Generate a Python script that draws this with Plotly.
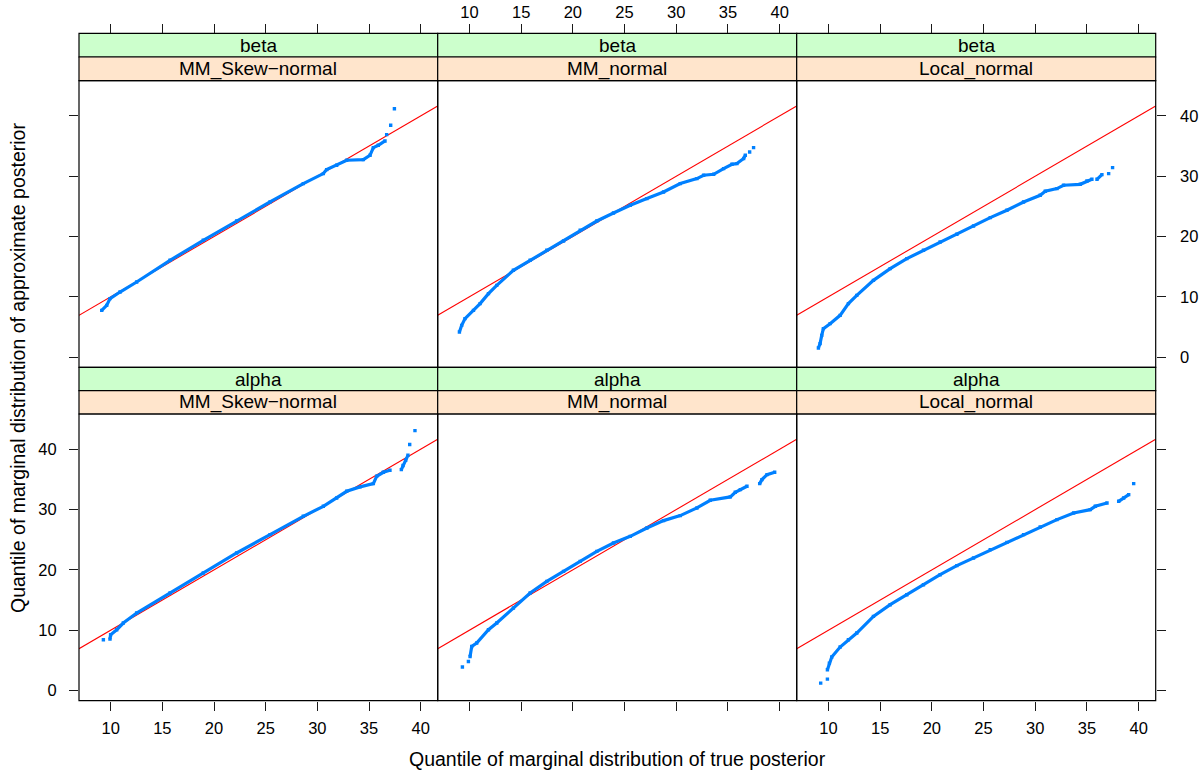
import plotly.graph_objects as go

# ---------------- data ----------------
PARAMS = ["beta", "alpha"]                       # rows: top, bottom
METHODS = ["MM_Skew\u2212normal", "MM_normal", "Local_normal"]  # columns

X_TICKS = [10, 15, 20, 25, 30, 35, 40]
Y_TICKS = [0, 10, 20, 30, 40]
X_RANGE = [6.93, 41.65]
Y_RANGE = [-1.7, 45.85]

# beta / MM_Skew-normal
beta_skew_x = [9.13, 9.61, 9.93, 10.9, 12.51, 15.74, 18.96, 22.19, 25.42, 28.64, 30.58, 30.9, 31.87,
               32.84, 34.45, 35.1, 35.42, 35.9, 36.55, None, 36.71, None, 37.1, None, 37.46]
beta_skew_y = [7.75, 8.58, 9.69, 10.79, 12.45, 16.05, 19.37, 22.57, 25.73, 28.78, 30.44, 31.1, 31.82,
               32.65, 32.76, 33.48, 34.75, 35.14, 35.85, None, 36.9, None, 38.46, None, 41.2]
# beta / MM_normal
beta_mm_x = [9.03, 9.25, 9.57, 10.39, 11.03, 11.84, 12.64, 14.25, 15.87, 17.48, 19.1, 20.71, 22.32,
             23.93, 25.55, 27.16, 28.77, 30.39, 32.0, 32.65, 33.62, 34.58, 35.39, 35.87, 36.52, 36.68,
             None, 37.1, None, 37.48]
beta_mm_y = [4.15, 5.26, 6.37, 7.75, 8.86, 10.52, 11.9, 14.39, 16.05, 17.71, 19.25, 21.03, 22.57,
             23.9, 25.18, 26.29, 27.39, 28.78, 29.61, 30.16, 30.32, 31.27, 31.98, 32.1, 32.93, 33.48,
             None, 34.03, None, 34.75]
# beta / Local_normal
beta_loc_x = [9.03, 9.19, 9.35, 9.51, 10.16, 11.13, 11.93, 12.74, 14.35, 15.97, 17.58, 19.19, 20.8,
              22.42, 24.03, 25.65, 27.26, 28.87, 30.48, 30.97, 32.1, 32.74, 34.35, 35.0, 35.48, None,
              35.97, 36.45, None, 37.1, None, 37.48]
beta_loc_y = [1.5, 2.22, 3.6, 4.71, 5.54, 6.92, 8.86, 10.24, 12.73, 14.67, 16.33, 17.71, 19.09,
              20.37, 21.75, 23.13, 24.35, 25.73, 26.84, 27.5, 27.95, 28.5, 28.66, 29.21, 29.49, None,
              29.49, 30.27, None, 30.43, None, 31.43]
# alpha / MM_Skew-normal
alpha_skew_x = [9.29, None, 9.93, 9.99, 10.58, 11.22, 12.51, 15.74, 18.96, 22.19, 25.42, 28.64, 30.58,
                31.87, 32.84, 34.13, 35.42, 35.74, 36.39, 37.03, None, 38.13, 38.29, 38.55, 38.77,
                None, 38.94, None, 39.45]
alpha_skew_y = [8.41, None, 8.52, 9.24, 10.07, 11.18, 12.84, 16.16, 19.48, 22.8, 25.84, 28.88, 30.54,
                31.93, 33.03, 33.76, 34.31, 35.52, 36.18, 36.52, None, 36.63, 37.3, 38.17, 39.0,
                None, 40.78, None, 43.1]
# alpha / MM_normal
alpha_mm_x = [9.32, None, 9.9, None, 10.06, 10.22, 10.7, 11.84, 12.64, 14.25, 15.87, 17.48, 19.1,
              20.71, 22.32, 23.93, 25.55, 27.16, 28.77, 30.39, 32.0, 33.29, 35.23, 35.71, 36.2, 36.84,
              None, 38.07, 38.29, 38.78, 39.52]
alpha_mm_y = [3.88, None, 4.81, None, 5.64, 7.3, 7.86, 10.07, 11.18, 13.67, 16.16, 18.09, 19.75,
              21.41, 23.07, 24.46, 25.56, 26.95, 28.17, 29.0, 30.27, 31.54, 32.1, 32.87, 33.31, 33.86,
              None, 34.31, 34.97, 35.8, 36.19]
# alpha / Local_normal
alpha_loc_x = [9.25, None, 9.9, None, 9.9, 10.09, 10.32, 11.13, 11.93, 12.74, 14.35, 15.97, 17.58,
               19.19, 20.8, 22.42, 24.03, 25.65, 27.26, 28.87, 30.48, 32.1, 33.71, 35.32, 35.81, 36.94,
               None, 38.07, 38.55, 39.04, None, 39.52]
alpha_loc_y = [1.22, None, 1.88, None, 3.43, 4.54, 5.54, 7.2, 8.41, 9.52, 12.28, 14.22, 15.88,
               17.54, 19.2, 20.7, 21.97, 23.35, 24.56, 25.84, 27.12, 28.33, 29.44, 29.99, 30.54, 31.1,
               None, 31.37, 31.93, 32.48, None, 34.3]

SERIES = [
    [(beta_skew_x, beta_skew_y), (beta_mm_x, beta_mm_y), (beta_loc_x, beta_loc_y)],
    [(alpha_skew_x, alpha_skew_y), (alpha_mm_x, alpha_mm_y), (alpha_loc_x, alpha_loc_y)],
]

# ---------------- layout geometry ----------------
W, H = 1200, 774
COL_PX = [(79.0, 437.7), (437.7, 796.7), (796.7, 1155.7)]
ROW_PX = [(80.7, 367.3), (414.0, 700.7)]
STRIP_PX = [((33.3, 57.0), (57.0, 80.7)), ((367.3, 390.7), (390.7, 414.0))]

FONT = "Liberation Sans, Arial, Helvetica, sans-serif"
PT_COL = "#0080ff"
GREEN = "#ccffcc"
PEACH = "#ffe5cc"
TICK_COL = "#1a1a1a"
TICK_FONT = dict(family=FONT, size=16.5, color="black")


def px_x(p):
    return p / W


def px_y(p):
    return 1 - p / H


fig = go.Figure()
layout = dict(width=W, height=H, margin=dict(l=0, r=0, t=0, b=0, autoexpand=False),
              paper_bgcolor="white", plot_bgcolor="white", showlegend=False,
              font=dict(family=FONT, color="black"))
shapes = []
annotations = []

for r in range(2):
    for c in range(3):
        i = r * 3 + c + 1
        xa = "xaxis" if i == 1 else f"xaxis{i}"
        ya = "yaxis" if i == 1 else f"yaxis{i}"
        xr = "x" if i == 1 else f"x{i}"
        yr = "y" if i == 1 else f"y{i}"
        x0, x1 = COL_PX[c]
        y0, y1 = ROW_PX[r]

        xdict = dict(domain=[px_x(x0), px_x(x1)], range=X_RANGE, tickvals=X_TICKS,
                     showgrid=False, zeroline=False, showline=False, automargin=False,
                     ticks="outside", ticklen=9, tickwidth=1, tickcolor=TICK_COL,
                     tickfont=TICK_FONT)
        if r == 0:
            xdict.update(anchor="free", position=px_y(STRIP_PX[0][0][0]), side="top",
                         showticklabels=(c == 1), ticklabelstandoff=0)
        else:
            xdict.update(anchor=yr, side="bottom", showticklabels=(c != 1),
                         ticklabelstandoff=3)

        ydict = dict(domain=[px_y(y1), px_y(y0)], range=Y_RANGE, tickvals=Y_TICKS,
                     showgrid=False, zeroline=False, showline=False, automargin=False,
                     tickfont=TICK_FONT, ticklen=9, tickwidth=1, tickcolor=TICK_COL, anchor=xr)
        if c == 0:
            ydict.update(side="left", ticks="outside", showticklabels=(r == 1),
                         ticklabelstandoff=9)
        elif c == 2:
            ydict.update(side="right", ticks="outside", showticklabels=(r == 0),
                         ticklabelstandoff=11)
        else:
            ydict.update(ticks="", showticklabels=False)
        layout[xa] = xdict
        layout[ya] = ydict

        # reference line y = x across the panel
        fig.add_trace(go.Scatter(x=X_RANGE, y=X_RANGE, mode="lines",
                                 line=dict(color="red", width=1.1),
                                 xaxis=xr, yaxis=yr, hoverinfo="skip"))
        sx, sy = SERIES[r][c]
        fig.add_trace(go.Scatter(x=sx, y=sy, mode="lines+markers",
                                 line=dict(color=PT_COL, width=3.2),
                                 marker=dict(color=PT_COL, symbol="square", size=3.4,
                                             line=dict(width=0)),
                                 xaxis=xr, yaxis=yr))

        # panel border
        shapes.append(dict(type="rect", xref="paper", yref="paper",
                           x0=px_x(x0), x1=px_x(x1), y0=px_y(y1), y1=px_y(y0),
                           line=dict(color="black", width=1.2), fillcolor="rgba(0,0,0,0)"))
        # strips
        (g0, g1), (p0, p1) = STRIP_PX[r]
        for (s0, s1), col, txt in [((g0, g1), GREEN, PARAMS[r]), ((p0, p1), PEACH, METHODS[c])]:
            shapes.append(dict(type="rect", xref="paper", yref="paper",
                               x0=px_x(x0), x1=px_x(x1), y0=px_y(s1), y1=px_y(s0),
                               line=dict(color="black", width=1.2), fillcolor=col, layer="below"))
            annotations.append(dict(text=txt, xref="paper", yref="paper",
                                    x=px_x((x0 + x1) / 2), y=px_y((s0 + s1) / 2),
                                    xanchor="center", yanchor="middle", showarrow=False,
                                    font=dict(family=FONT, size=19, color="black")))

annotations.append(dict(text="Quantile of marginal distribution of true posterior",
                        xref="paper", yref="paper", x=px_x(617), y=px_y(759),
                        xanchor="center", yanchor="middle", showarrow=False,
                        font=dict(family=FONT, size=19.5, color="black")))
annotations.append(dict(text="Quantile of marginal distribution of approximate posterior",
                        xref="paper", yref="paper", x=px_x(18), y=px_y(368),
                        xanchor="center", yanchor="middle", showarrow=False, textangle=-90,
                        font=dict(family=FONT, size=19.5, color="black")))

layout["shapes"] = shapes
layout["annotations"] = annotations
fig.update_layout(**layout)
fig.write_html("out.html", config={"displayModeBar": False},
               post_script="document.body.style.margin='0';document.body.style.overflow='hidden';")
